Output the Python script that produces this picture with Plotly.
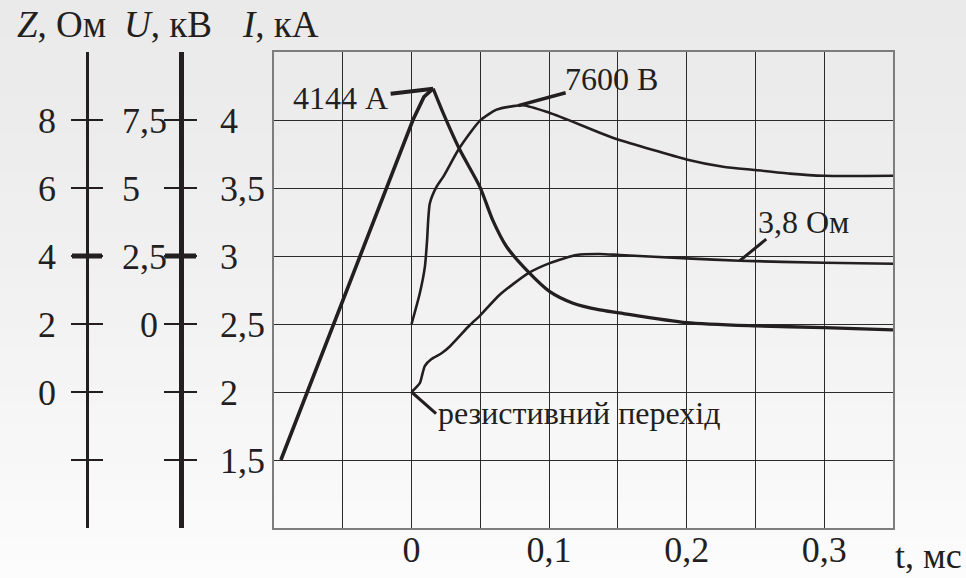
import plotly.graph_objects as go

# ---------------- data ----------------
t_I = [-0.095, 0.001, 0.009, 0.0157, 0.023, 0.0346, 0.0496, 0.059, 0.069, 0.0847,
       0.1005, 0.1174, 0.1368, 0.1497, 0.1999, 0.25, 0.30, 0.35]
I_kA = [1.5, 4.0, 4.17, 4.23, 4.05, 3.79, 3.51, 3.264, 3.07, 2.885,
        2.738, 2.653, 2.604, 2.584, 2.51, 2.486, 2.474, 2.457]
I_peak_index = 3

t_U = [0, 0.006, 0.0097, 0.0113, 0.0121, 0.0133, 0.0182, 0.023, 0.0346, 0.0496, 0.0618,
       0.0738, 0.0811, 0.0981, 0.1174, 0.1368, 0.1501, 0.1999, 0.2265, 0.25, 0.2749, 0.30, 0.35]
U_kV = [0, 1.13, 2.11, 3.09, 3.82, 4.44, 5.05, 5.41, 6.45, 7.47, 7.88,
        8.01, 8.04, 7.80, 7.43, 7.03, 6.78, 6.05, 5.78, 5.66, 5.53, 5.45, 5.45]

t_Z = [0, 0.006, 0.008, 0.0097, 0.0145, 0.0218, 0.0278, 0.0424, 0.0496, 0.0641,
       0.0847, 0.1005, 0.1199, 0.1368, 0.1514, 0.1999, 0.2386, 0.30, 0.35]
Z_Ohm = [0, 0.26, 0.55, 0.77, 0.97, 1.14, 1.34, 1.97, 2.24, 2.86,
         3.49, 3.79, 4.03, 4.06, 4.03, 3.93, 3.86, 3.80, 3.77]

x_grid = [-0.1, -0.05, 0, 0.05, 0.1, 0.15, 0.2, 0.25, 0.3, 0.35]
x_labels = ["", "", "0", "", "0,1", "", "0,2", "", "0,3", ""]
I_grid = [1.0, 1.5, 2.0, 2.5, 3.0, 3.5, 4.0, 4.5]
I_ticks = [1.5, 2.0, 2.5, 3.0, 3.5, 4.0]
I_labels = ["1,5", "2", "2,5", "3", "3,5", "4"]
U_ticks = [-5, -2.5, 0, 2.5, 5, 7.5]
PAD = "<span style='color:rgba(0,0,0,0)'>{}</span>"
U_labels = ["", "", "0" + PAD.format(","), "2,5", "5" + PAD.format(",5"), "7,5"]
Z_ticks = [-2, 0, 2, 4, 6, 8]
Z_labels = ["", "0", "2", "4", "6", "8"]

I_range = [1.0, 4.5]
U_range = [(I_range[0] - 2.5) * 5, (I_range[1] - 2.5) * 5]
Z_range = [(I_range[0] - 2.0) * 4, (I_range[1] - 2.0) * 4]

# ---------------- style ----------------
INK = "#231f20"
FONT = "Liberation Serif, Times New Roman, serif"
W, H = 966, 578
ML, MR, MT, MB = 0, 73, 52, 50
PW = W - ML - MR
PH = H - MT - MB

def px_x(p):
    return (p - ML) / PW

def px_y(p):
    return (H - MB - p) / PH

fig = go.Figure()

# background gradient bands
nb = 30
for k in range(nb):
    y0 = H * k / nb
    y1 = H * (k + 1) / nb + 1
    v = int(round(234 + (252 - 234) * (k / (nb - 1)) ** 1.3))
    fig.add_shape(type="rect", xref="paper", yref="paper",
                  x0=-0.05, x1=1.2, y0=px_y(y1), y1=px_y(y0),
                  fillcolor=f"rgb({v},{v},{v})", line_width=0, layer="below")

# current: straight rise, smooth decay
fig.add_trace(go.Scatter(x=t_I[:I_peak_index + 1], y=I_kA[:I_peak_index + 1], mode="lines",
                         yaxis="y", line=dict(color=INK, width=3.6),
                         hoverinfo="skip", showlegend=False))
fig.add_trace(go.Scatter(x=t_I[I_peak_index:], y=I_kA[I_peak_index:], mode="lines",
                         yaxis="y", line=dict(color=INK, width=3.3, shape="spline", smoothing=0.7),
                         hoverinfo="skip", showlegend=False))
fig.add_trace(go.Scatter(x=t_U, y=U_kV, mode="lines", yaxis="y2",
                         line=dict(color=INK, width=2.6, shape="spline", smoothing=0.6),
                         hoverinfo="skip", showlegend=False))
fig.add_trace(go.Scatter(x=t_Z, y=Z_Ohm, mode="lines", yaxis="y3",
                         line=dict(color=INK, width=2.6, shape="spline", smoothing=0.6),
                         hoverinfo="skip", showlegend=False))
# invisible carriers so the helper axes are drawn
for xs, ys, xa, ya in [(t_I, I_kA, "x", "y4"), (t_U, U_kV, "x", "y5"), (t_Z, Z_Ohm, "x", "y6"),
                       (t_U, U_kV, "x", "y7"), (t_Z, Z_Ohm, "x", "y8"), (t_I, I_kA, "x2", "y")]:
    fig.add_trace(go.Scatter(x=xs, y=ys, mode="lines", xaxis=xa, yaxis=ya,
                             line=dict(color="rgba(0,0,0,0)", width=0),
                             hoverinfo="skip", showlegend=False))

tickfont = dict(family=FONT, size=36, color=INK)

common = dict(automargin=False, zeroline=False, showgrid=False)
tickaxis = dict(tickmode="array", ticklen=15, tickwidth=2, tickcolor=INK,
                showticklabels=False, overlaying="y", anchor="free", side="left", **common)
labelaxis = dict(tickmode="array", ticks="", showline=False, overlaying="y", anchor="free",
                 tickfont=tickfont, ticklabelstandoff=0, **common)

x_range = [x_grid[0], x_grid[-1]]
fig.update_layout(
    width=W, height=H,
    margin=dict(l=ML, r=MR, t=MT, b=MB, autoexpand=False),
    paper_bgcolor="rgb(250,250,250)",
    plot_bgcolor="rgba(0,0,0,0)",
    showlegend=False,
    xaxis=dict(domain=[px_x(274), 1], range=x_range,
               tickmode="array", tickvals=x_grid, showticklabels=False,
               showgrid=True, gridcolor="#2b2b2b", gridwidth=1.3,
               showline=True, mirror=True, linecolor="#7d7d7d", linewidth=2,
               ticks="", automargin=False, zeroline=False),
    xaxis2=dict(domain=[px_x(274), 1], range=x_range, overlaying="x", anchor="free",
                position=px_y(525), side="bottom",
                tickmode="array", tickvals=x_grid, ticktext=x_labels, ticks="",
                showline=False, tickfont=tickfont, ticklabelstandoff=0, **common),
    yaxis=dict(range=I_range, tickmode="array", tickvals=I_grid,
               showticklabels=False, showgrid=True, gridcolor="#2b2b2b", gridwidth=1.3,
               showline=True, mirror=True, linecolor="#7d7d7d", linewidth=2,
               ticks="", automargin=False, zeroline=False),
    # U axis: line + crossing ticks + labels
    yaxis2=dict(range=U_range, position=px_x(180.5), tickvals=U_ticks, ticks="outside",
                showline=True, linewidth=5, linecolor=INK, **tickaxis),
    yaxis5=dict(range=U_range, position=px_x(180.5), tickvals=U_ticks, ticks="inside",
                showline=False, **tickaxis),
    yaxis7=dict(range=U_range, position=px_x(167), side="left",
                tickvals=U_ticks, ticktext=U_labels, **labelaxis),
    # Z axis
    yaxis3=dict(range=Z_range, position=px_x(87), tickvals=Z_ticks, ticks="outside",
                showline=True, linewidth=3, linecolor=INK, **tickaxis),
    yaxis6=dict(range=Z_range, position=px_x(87), tickvals=Z_ticks, ticks="inside",
                showline=False, **tickaxis),
    yaxis8=dict(range=Z_range, position=px_x(56), side="left",
                tickvals=Z_ticks, ticktext=Z_labels, **labelaxis),
    # I labels (left aligned)
    yaxis4=dict(range=I_range, position=px_x(219), side="right",
                tickvals=I_ticks, ticktext=I_labels, **labelaxis),
)

# emphasised ticks at Z = 4 and U = 2.5
fig.add_shape(type="line", xref="paper", yref="y3", x0=px_x(72), x1=px_x(102),
              y0=Z_ticks[3], y1=Z_ticks[3], line=dict(color=INK, width=5))
fig.add_shape(type="line", xref="paper", yref="y2", x0=px_x(165), x1=px_x(196),
              y0=U_ticks[3], y1=U_ticks[3], line=dict(color=INK, width=5))

hdr = dict(family=FONT, size=37, color=INK)
for txt, cx in [("<i>Z</i>, Ом", 61.5), ("<i>U</i>, кВ", 167.5), ("<i>I</i>, кА", 280)]:
    fig.add_annotation(text=txt, xref="paper", yref="paper", x=px_x(cx), y=px_y(25),
                       xanchor="center", yanchor="middle", showarrow=False, font=hdr)
fig.add_annotation(text="t, мс", xref="paper", yref="paper", x=px_x(964), y=px_y(556),
                   xanchor="right", yanchor="middle", showarrow=False, font=tickfont)

af = dict(family=FONT, size=32, color=INK)
# text labels (placed in I-axis coordinates)
fig.add_annotation(text="4144 А", x=-0.0875, y=4.165, xref="x", yref="y",
                   xanchor="left", yanchor="middle", showarrow=False, font=af)
fig.add_annotation(text="7600 В", x=0.110, y=4.30, xref="x", yref="y",
                   xanchor="left", yanchor="middle", showarrow=False, font=af)
fig.add_annotation(text="3,8 Ом", x=0.2505, y=3.25, xref="x", yref="y",
                   xanchor="left", yanchor="middle", showarrow=False, font=af)
fig.add_annotation(text="резистивний перехід", x=0.018, y=1.845, xref="x", yref="y",
                   xanchor="left", yanchor="middle", showarrow=False, font=af)

# leader lines
def leader(x, y, yref, ax, ay, w):
    fig.add_annotation(text=" ", x=x, y=y, xref="x", yref=yref, ax=ax, ay=ay,
                       showarrow=True, arrowhead=0, arrowwidth=w, arrowcolor=INK,
                       font=dict(size=1), borderpad=0, standoff=0)

leader(t_I[I_peak_index], I_kA[I_peak_index], "y", -43, 5, 4)
leader(0.0775, 8.03, "y2", 48, -13, 3.5)
leader(t_Z[16], Z_Ohm[16], "y3", 27, -22, 3)
leader(t_Z[0], Z_Ohm[0], "y3", 25, 22, 3)

fig.write_html("out.html", config={"displayModeBar": False},
               post_script="document.body.style.margin='0';"
                           "document.body.style.background='rgb(234,234,234)';")
